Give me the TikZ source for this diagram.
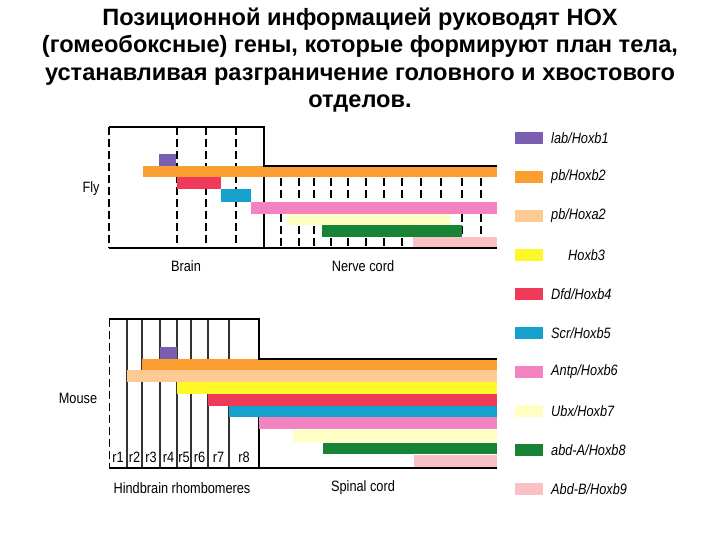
\documentclass[tikz,border=0pt]{standalone}
\usepackage{fontspec}
\setmainfont{Liberation Sans}
\newfontfamily\narrowfont[FakeStretch=0.85]{Liberation Sans}

\definecolor{hoxlab}{RGB}{122,94,176}
\definecolor{hoxpb}{RGB}{250,158,48}
\definecolor{hoxpbl}{RGB}{252,202,146}
\definecolor{hoxthree}{RGB}{255,248,40}
\definecolor{hoxdfd}{RGB}{240,58,90}
\definecolor{hoxscr}{RGB}{22,160,204}
\definecolor{hoxantp}{RGB}{242,130,192}
\definecolor{hoxubx}{RGB}{255,255,196}
\definecolor{hoxabda}{RGB}{22,132,52}
\definecolor{hoxabdb}{RGB}{250,192,198}

\begin{document}
\begin{tikzpicture}[x=1pt, y=-1pt,
    frame/.style={line width=1.6pt},
    seg/.style={line width=1.3pt, dash pattern=on 8pt off 4pt},
    rline/.style={line width=1.1pt, black!80},
    lbl/.style={font=\narrowfont\fontsize{15}{17}\selectfont, inner sep=0pt},
    keytext/.style={font=\narrowfont\itshape\fontsize{15}{17}\selectfont, anchor=west, inner sep=0pt}]
    \useasboundingbox (0,0) rectangle (720,540);

    \node[font=\bfseries\fontsize{23.6}{27.5}\selectfont, align=center] (title) at (360,60)
        {Позиционной информацией руководят HOX\\
         (гомеобоксные) гены, которые формируют план тела,\\
         устанавливая разграничение головного и хвостового\\
         отделов.};

    % fly
    \foreach \x in {109,177,206,236}
        \draw[seg] (\x,127) -- (\x,248);
    \foreach \x in {281,299,314,331,348,366,384,402,421,441,462,481}
        \draw[seg] (\x,166) -- (\x,248);
    \draw[frame] (264,127) -- (264,248);

    \fill[hoxlab]  (159,154) rectangle (176,166);
    \fill[hoxpb]   (143,166) rectangle (497,177);
    \fill[hoxdfd]  (177,177) rectangle (221,189);
    \fill[hoxscr]  (221,189) rectangle (251,202);
    \fill[hoxantp] (251,202) rectangle (497,214);
    \fill[hoxubx]  (287,214) rectangle (450,225);
    \fill[hoxabda] (322,225) rectangle (462,237);
    \fill[hoxabdb] (413,237) rectangle (497,248);

    \draw[frame] (109,127) -- (264,127) -- (264,166) -- (497,166);
    \draw[frame] (109,248) -- (497,248);

    \node[lbl] (fly) at (91,189) {Fly};
    \node[lbl] (brain) at (186,266) {Brain};
    \node[lbl] (nerve) at (363,266) {Nerve cord};

    % mouse
    \draw[seg, line width=0.9pt] (109,319) -- (109,468);
    \foreach \x in {127,142,160,177,191,208,229}
        \draw[rline] (\x,319) -- (\x,468);
    \draw[frame] (259,319) -- (259,468);

    \fill[hoxlab]  (160,347) rectangle (177,359);
    \fill[hoxpb]   (142,359) rectangle (497,370);
    \fill[hoxpbl]  (127,370) rectangle (497,382);
    \fill[hoxthree](177,382) rectangle (497,394);
    \fill[hoxdfd]  (208,394) rectangle (497,406);
    \fill[hoxscr]  (229,406) rectangle (497,417);
    \fill[hoxantp] (259,417) rectangle (497,429);
    \fill[hoxubx]  (293,430) rectangle (497,442);
    \fill[hoxabda] (323,443) rectangle (497,454);
    \fill[hoxabdb] (414,455) rectangle (497,467);

    \draw[frame] (109,319) -- (259,319) -- (259,359) -- (497,359);
    \draw[frame] (109,468) -- (497,468);

    \foreach \x/\r in {118/r1,134.5/r2,151/r3,168.5/r4,184/r5,199.5/r6,218.5/r7,244/r8}
        \node[lbl] (\r) at (\x,457) {\r};

    \node[lbl] (mouse) at (78,398) {Mouse};
    \node[lbl] (hind) at (182,488) {Hindbrain rhombomeres};
    \node[lbl] (spinal) at (363,488) {Spinal cord};

    % legend
    \foreach \col/\dx/\txt [count=\i] in {
        hoxlab/0/{lab/Hoxb1}, hoxpb/0/{pb/Hoxb2}, hoxpbl/0/{pb/Hoxa2},
        hoxthree/17/{Hoxb3}, hoxdfd/0/{Dfd/Hoxb4}, hoxscr/0/{Scr/Hoxb5},
        hoxantp/0/{Antp/Hoxb6}, hoxubx/0/{Ubx/Hoxb7}, hoxabda/0/{abd-A/Hoxb8},
        hoxabdb/0/{Abd-B/Hoxb9}} {
        \fill[\col] (515,{132+39*(\i-1)}) rectangle (543,{144+39*(\i-1)});
        \node[keytext] (key\i) at ({551+\dx},{138+39*(\i-1)}) {\txt};
    }
\end{tikzpicture}
\end{document}
